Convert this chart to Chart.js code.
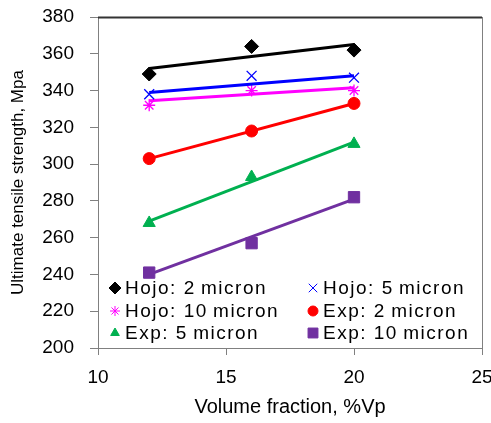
<!DOCTYPE html>
<html>
<head>
<meta charset="utf-8">
<script src="https://cdn.jsdelivr.net/npm/chart.js@4"></script>
<style>
  html, body { margin: 0; padding: 0; background: #fff; }
  #wrap { width: 491px; height: 423px; }
</style>
</head>
<body>
<div id="wrap"><canvas id="chart"></canvas></div>
<script>
// Measured points (volume fraction %Vp vs UTS, MPa)
const volFraction = [12, 16, 20];
const hojo2 = [349, 364, 362];
const hojo5 = [338, 348, 347];
const hojo10 = [332, 340, 340];
const exp2 = [303, 318, 333];
const exp5 = [268, 293, 311];
const exp10 = [241, 257, 282];

// Trend line ends
const trendX = [12, 20];
const hojo2Trend = [352, 365];
const hojo5Trend = [339, 348];
const hojo10Trend = [334.5, 341.5];
const exp2Trend = [303, 333];
const exp5Trend = [269, 312];
const exp10Trend = [240, 281];

const xTicks = [10, 15, 20, 25];

const FONT = '"Liberation Sans", Arial, sans-serif';

const series = [
    { label: 'Hojo: 2 micron', pts: hojo2, trend: hojo2Trend, color: '#000000', style: 'rectRot', size: 7, legSize: 6 },
    { label: 'Hojo: 5 micron', pts: hojo5, trend: hojo5Trend, color: '#0000FF', style: 'crossRot', size: 7, legSize: 6 },
    { label: 'Hojo: 10 micron', pts: hojo10, trend: hojo10Trend, color: '#FF00FF', style: 'star', size: 6, legSize: 5 },
    { label: 'Exp: 2 micron', pts: exp2, trend: exp2Trend, color: '#FF0000', style: 'circle', size: 6, legSize: 5 },
    { label: 'Exp: 5 micron', pts: exp5, trend: exp5Trend, color: '#00B050', style: 'triangle', size: 7, legSize: 5 },
    { label: 'Exp: 10 micron', pts: exp10, trend: exp10Trend, color: '#7030A0', style: 'rect', size: 8, legSize: 7 }
];

const datasets = [];
series.forEach(s => {
    datasets.push({
        label: s.label,
        data: volFraction.map((x, i) => ({ x: x, y: s.pts[i] })),
        showLine: false,
        pointStyle: s.style,
        pointRadius: s.size,
        borderColor: s.color,
        backgroundColor: s.color,
        pointBorderWidth: s.style === 'crossRot' || s.style === 'star' ? 1.3 : 1
    });
    datasets.push({
        label: s.label + ' trend',
        data: trendX.map((x, i) => ({ x: x, y: s.trend[i] })),
        showLine: true,
        pointRadius: 0,
        borderColor: s.color,
        borderWidth: 3,
        fill: false
    });
});

// frame around plot area + legend drawn inside the plot
const framePlugin = {
    id: 'frame',
    afterDraw(chart) {
        const ctx = chart.ctx;
        const a = chart.chartArea;
        ctx.save();
        ctx.strokeStyle = '#808080';
        ctx.lineWidth = 1;
        ctx.strokeRect(a.left + 0.5, a.top + 0.5, a.right - a.left, a.bottom - a.top);
        ctx.strokeStyle = '#333';
        ctx.lineWidth = 2;
        ctx.beginPath();
        ctx.moveTo(a.left, a.top + 0.5);
        ctx.lineTo(a.right, a.top + 0.5);
        ctx.stroke();

        // legend
        ctx.font = '19px ' + FONT;
        ctx.letterSpacing = '1.5px';
        ctx.textBaseline = 'middle';
        const cols = [a.left + 17, a.left + 215];
        const rows = [a.bottom - 60, a.bottom - 37, a.bottom - 15];
        series.forEach((s, i) => {
            const cx = cols[i % 2];
            const cy = rows[Math.floor(i / 2)];
            ctx.fillStyle = s.color;
            ctx.strokeStyle = s.color;
            ctx.lineWidth = 1;
            Chart.helpers.drawPoint(ctx, { pointStyle: s.style, radius: s.legSize, borderWidth: 1 }, cx, cy);
            ctx.fillStyle = '#000';
            ctx.fillText(s.label.replace(' micron', '\u2009micron'), cx + 10, cy + 1);
        });
        ctx.restore();
    }
};

new Chart(document.getElementById('chart'), {
    type: 'scatter',
    data: { datasets: datasets },
    plugins: [framePlugin],
    options: {
        responsive: true,
        maintainAspectRatio: false,
        animation: false,
        layout: { padding: { top: 17, right: 9, left: 0, bottom: 0 } },
        plugins: {
            legend: { display: false },
            tooltip: { enabled: false }
        },
        scales: {
            x: {
                type: 'linear',
                min: 10,
                max: 25,
                afterBuildTicks: axis => { axis.ticks = xTicks.map(v => ({ value: v })); },
                afterFit: axis => { axis.height = 75; axis.paddingLeft = 0; axis.paddingRight = 0; },
                grid: { drawOnChartArea: false, tickLength: 7, color: '#808080' },
                border: { color: '#808080' },
                ticks: { color: '#000', font: { family: FONT, size: 19 }, padding: 11 },
                title: { display: true, text: 'Volume fraction, %Vp', color: '#000', font: { family: FONT, size: 20 }, padding: { top: 4 } }
            },
            y: {
                min: 200,
                max: 380,
                afterFit: axis => { axis.width = 98; axis.paddingTop = 0; axis.paddingBottom = 0; },
                ticks: { stepSize: 20, color: '#000', font: { family: FONT, size: 19 }, padding: 16 },
                grid: { drawOnChartArea: false, tickLength: 8, color: '#808080' },
                border: { color: '#808080' },
                title: { display: true, text: 'Ultimate tensile strength, Mpa', color: '#000', font: { family: FONT, size: 17 }, padding: { top: 8, bottom: 0 } }
            }
        }
    }
});
</script>
</body>
</html>
